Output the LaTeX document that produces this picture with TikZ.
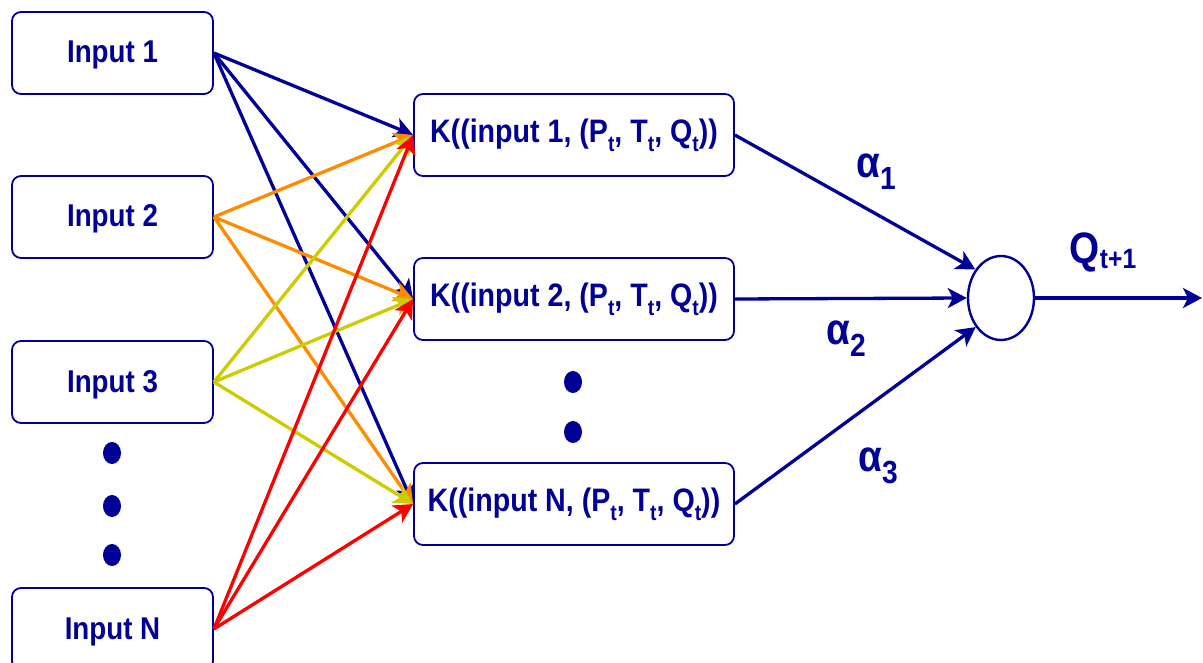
\documentclass[tikz,border=0pt]{standalone}
\usepackage{fontspec}
\setmainfont{Liberation Sans}[FakeStretch=0.88]
\usetikzlibrary{arrows.meta,shapes.geometric}
\definecolor{navy}{RGB}{0,0,150}
\definecolor{orangeln}{RGB}{255,140,0}
\definecolor{limeln}{RGB}{204,204,0}
\definecolor{redln}{RGB}{255,0,0}
% lowered subscript inside a box label
\newcommand\lowsub[1]{\raisebox{-0.28em}{\fontsize{22}{22}\selectfont #1}}
\begin{document}
\begin{tikzpicture}[x=1pt,y=-1pt,
  inbox/.style={draw=navy, line width=1.8pt, rounded corners=9pt,
    minimum width=201pt, minimum height=82pt, inner sep=0pt,
    font=\bfseries\fontsize{31.5}{31.5}\selectfont, text=navy},
  inputbox/.style={inbox, text height=24pt, text depth=4pt},
  kbox/.style={inbox, minimum width=320pt, font=\bfseries\fontsize{32.5}{32.5}\selectfont},
  link/.style={line width=3.3pt, draw=#1,
    -{Stealth[length=19pt,width=20pt,inset=5pt]}},
  dot/.style={fill=navy, ellipse, minimum width=18pt, minimum height=22pt, inner sep=0pt},
  lbl/.style={text=navy, font=\bfseries\fontsize{44}{44}\selectfont, inner sep=0pt}]
\useasboundingbox (0,0) rectangle (1203,663);

% input column
\node[inputbox] (in1) at (112.5,53) {Input 1};
\node[inputbox] (in2) at (112.5,217) {Input 2};
\node[inputbox] (in3) at (112.5,382) {Input 3};
\node[inputbox] (inN) at (112.5,629) {Input N};
\node[dot] (d1) at (112,453) {};
\node[dot] (d2) at (112,506) {};
\node[dot] (d3) at (112,555) {};

% kernel column
\node[kbox] (k1) at (574,135) {K((input 1, (P\lowsub{t}, T\lowsub{t}, Q\lowsub{t}))};
\node[kbox] (k2) at (574,299) {K((input 2, (P\lowsub{t}, T\lowsub{t}, Q\lowsub{t}))};
\node[kbox] (k3) at (574,504) {K((input N, (P\lowsub{t}, T\lowsub{t}, Q\lowsub{t}))};
\node[dot] (m1) at (573,382) {};
\node[dot] (m2) at (573,432) {};

% summation node
\node[draw=navy, line width=2.4pt, ellipse, minimum width=66pt, minimum height=84pt, inner sep=0pt] (sum) at (1001,298) {};
\coordinate (out) at (1202,298);

% input to kernel links
\foreach \k in {k1,k2,k3} \draw[link=navy] (in1.east) -- (\k.west);
\foreach \k in {k1,k2,k3} \draw[link=orangeln] (in2.east) -- (\k.west);
\foreach \k in {k1,k2,k3} \draw[link=limeln] (in3.east) -- (\k.west);
\foreach \k in {k1,k2,k3} \draw[link=redln] (inN.east) -- (\k.west);

% kernel to summation links
\draw[link=navy] (k1.east) -- (sum.132);
\draw[link=navy] (k2.east) -- (sum.west);
\draw[link=navy] (k3.east) -- (sum.229);
\draw[link=navy] (sum.east) -- (out);

% weights and output label
\node[lbl] (a1) at (876,172) {α\lowsub{\fontsize{32}{32}\selectfont 1}};
\node[lbl] (a2) at (846,339) {α\lowsub{\fontsize{32}{32}\selectfont 2}};
\node[lbl] (a3) at (878,466) {α\lowsub{\fontsize{32}{32}\selectfont 3}};
\node[lbl] (q) at (1103,252) {Q\raisebox{-0.12em}{\fontsize{28}{28}\selectfont t+1}};
\end{tikzpicture}
\end{document}
